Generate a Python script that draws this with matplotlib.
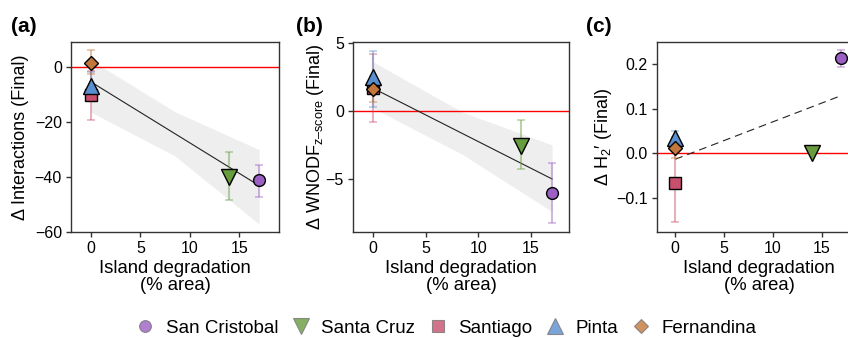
"""Three-panel island degradation figure: Δ interactions, Δ WNODF and Δ H2'."""
import matplotlib
matplotlib.use("Agg")
import matplotlib.pyplot as plt
from matplotlib.lines import Line2D

plt.rcParams["font.family"] = ["Liberation Sans", "DejaVu Sans"]
plt.rcParams["mathtext.fontset"] = "custom"
plt.rcParams["mathtext.rm"] = "Liberation Sans"
plt.rcParams["mathtext.it"] = "Liberation Sans:italic"

# Islands, in legend order
islands = ["San Cristobal", "Santa Cruz", "Santiago", "Pinta", "Fernandina"]
degradation = [17, 14, 0, 0, 0]
island_colors = ["#9c5fc4", "#679d3d", "#c8506e", "#5a8fcf", "#c4773a"]
island_markers = ["o", "v", "s", "^", "D"]
marker_sizes = [8.5, 11, 8, 11, 7]

# (a) Δ interactions
a_mean = [-41.4, -40.2, -10.4, -7.0, 1.5]
a_lo = [-47.3, -48.7, -19.5, -12.5, -2.8]
a_hi = [-35.7, -31.1, -1.5, -2.0, 6.1]

# (b) Δ WNODF z-score
b_mean = [-6.0, -2.6, 1.7, 2.5, 1.6]
b_lo = [-8.2, -4.3, -0.8, 0.25, 0.66]
b_hi = [-3.8, -0.68, 4.17, 4.41, 2.56]

# (c) Δ H2'
c_mean = [0.213, 0.0, -0.067, 0.034, 0.013]
c_lo = [0.193, 0.0, -0.154, 0.017, -0.011]
c_hi = [0.233, 0.0, 0.02, 0.051, 0.037]

# fitted lines and confidence bands
fit_x = [0, 17]
a_fit = [-5.5, -43.3]
b_fit = [1.66, -5.0]
c_fit = [-0.013, 0.130]
band_x = [0, 8.5, 17]
a_band_lo = [-16.5, -32.5, -57.3]
a_band_hi = [2.4, -16.4, -30.2]
b_band_lo = [0.2, -3.2, -7.4]
b_band_hi = [3.6, -0.1, -2.5]

W, H = 848, 338
fig = plt.figure(figsize=(W / 100, H / 100), dpi=100)


def px_axes(left, top, right, bottom):
    return fig.add_axes([left / W, 1 - bottom / H, (right - left) / W, (bottom - top) / H])


def draw_panel(ax, mean, lo, hi, fit, band_lo=None, band_hi=None, dashed=False):
    if band_lo is not None:
        ax.fill_between(band_x, band_lo, band_hi, color="#eeeeee", lw=0, zorder=1)
    ax.axhline(0, color="red", lw=1.0, zorder=2)
    if dashed:
        ax.plot(fit_x, fit, color="#222", lw=0.8, dashes=(7, 4.5), zorder=3)
    else:
        ax.plot(fit_x, fit, color="#222", lw=0.8, zorder=3)
    for i in range(len(islands)):
        ax.errorbar(degradation[i], mean[i],
                    yerr=[[mean[i] - lo[i]], [hi[i] - mean[i]]],
                    fmt="none", ecolor=island_colors[i], alpha=0.45,
                    elinewidth=1.5, capsize=2.6, capthick=1.2, zorder=4)
    for i in range(len(islands)):
        ax.plot(degradation[i], mean[i], marker=island_markers[i],
                ms=marker_sizes[i], mfc=island_colors[i], mec="black",
                mew=1.0, ls="none", zorder=5 + i)
    for s in ax.spines.values():
        s.set_color("#333333")
        s.set_linewidth(1.0)
    ax.tick_params(direction="out", length=3.5, width=1.0, color="#333333",
                   labelsize=11.5, pad=3)
    ax.set_xticks([0, 5, 10, 15])
    ax.set_xlabel("Island degradation\n(% area)", fontsize=13.3, linespacing=1.0, labelpad=3)


def place_ylabel(ax, x_px):
    # put the y label centre at a given figure pixel column
    bb = ax.get_position()
    ax.yaxis.set_label_coords((x_px / W - bb.x0) / bb.width, 0.5)


ax_a = px_axes(71, 42, 279, 231.5)
draw_panel(ax_a, a_mean, a_lo, a_hi, a_fit, a_band_lo, a_band_hi)
ax_a.set_xlim(-2, 19)
ax_a.set_ylim(-60, 9)
ax_a.set_yticks([-60, -40, -20, 0])
ax_a.set_ylabel("Δ Interactions (Final)", fontsize=13, va="center")
place_ylabel(ax_a, 21)

ax_b = px_axes(353, 42, 569, 231.5)
draw_panel(ax_b, b_mean, b_lo, b_hi, b_fit, b_band_lo, b_band_hi)
ax_b.set_xlim(-1.9, 18.6)
ax_b.set_ylim(-8.85, 5.05)
ax_b.set_yticks([-5, 0, 5])
ax_b.set_ylabel(r"Δ WNODF$_{\mathregular{z–score}}$ (Final)", fontsize=13, va="center")
place_ylabel(ax_b, 316)

ax_c = px_axes(657, 42, 861, 231.5)
draw_panel(ax_c, c_mean, c_lo, c_hi, c_fit, dashed=True)
ax_c.set_xlim(-1.87, 19)
ax_c.set_ylim(-0.175, 0.25)
ax_c.set_yticks([-0.1, 0.0, 0.1, 0.2])
ax_c.set_ylabel(r"Δ H$_{\mathregular{2}}$′ (Final)", fontsize=13, va="center")
place_ylabel(ax_c, 603)

for label, x in [("(a)", 11), ("(b)", 296), ("(c)", 586)]:
    fig.text(x / W, 1 - 27 / H, label, fontsize=15, fontweight="bold", va="center", ha="left")

handles = [Line2D([], [], marker=island_markers[i], ms=marker_sizes[i] * 1.0,
                  mfc=island_colors[i], mec="#777777", mew=0.8, ls="none", alpha=0.8)
           for i in range(len(islands))]
fig.legend(handles, islands, loc="center", bbox_to_anchor=(446 / W, 1 - 328 / H),
           ncol=5, frameon=False, fontsize=13.5, handlelength=1.0,
           handletextpad=0.6, columnspacing=0.7, borderaxespad=0)

fig.savefig("out.png", dpi=100)
